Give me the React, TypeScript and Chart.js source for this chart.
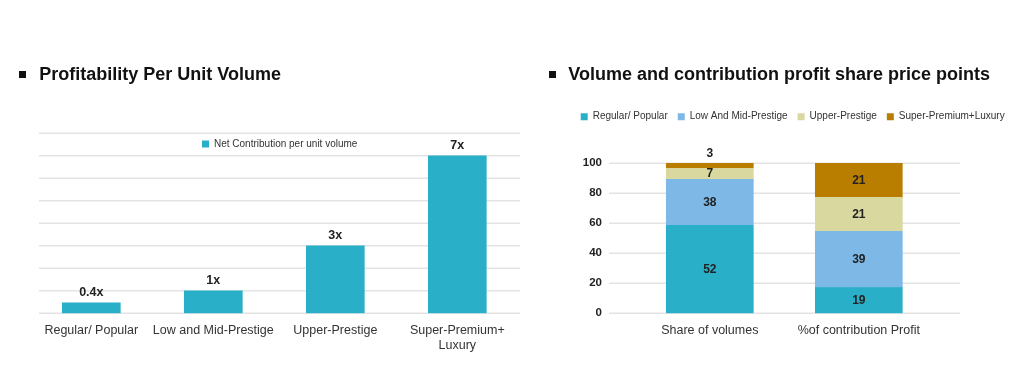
import React, { useEffect, useRef } from "react";
import { Chart, registerables } from "chart.js";

Chart.register(...registerables);

// ---------- data ----------
const LEFT_TITLE = "Profitability Per Unit Volume";
const LEFT_CATEGORIES = [["Regular/ Popular"], ["Low and Mid-Prestige"], ["Upper-Prestige"], ["Super-Premium+", "Luxury"]];
const LEFT_SERIES = "Net Contribution per unit volume";
const LEFT_VALUES = [0.47, 1, 3, 7];
const LEFT_VALUE_LABELS = ["0.4x", "1x", "3x", "7x"];
const LEFT_GRID = [0, 1, 2, 3, 4, 5, 6, 7, 8];

const RIGHT_TITLE = "Volume and contribution profit share price points";
const RIGHT_CATEGORIES = ["Share of volumes", "%of contribution Profit"];
const RIGHT_SERIES = ["Regular/ Popular", "Low And Mid-Prestige", "Upper-Prestige", "Super-Premium+Luxury"];
const RIGHT_REGULAR = [58.7, 17.1];
const RIGHT_LOWMID = [30.6, 37.6];
const RIGHT_UPPER = [7.4, 22.6];
const RIGHT_SUPER = [3.3, 22.7];
const RIGHT_REGULAR_LABELS = ["52", "19"];
const RIGHT_LOWMID_LABELS = ["38", "39"];
const RIGHT_UPPER_LABELS = ["7", "21"];
const RIGHT_SUPER_LABELS = ["3", "21"];
const RIGHT_Y_TICKS = [0, 20, 40, 60, 80, 100];

// ---------- style ----------
const FONT = '"Liberation Sans", Arial, Helvetica, sans-serif';
const TEAL = "#29AFC8";
const BLUE = "#7DB8E6";
const TAN = "#D8D89F";
const BROWN = "#B97E00";
const GRID_COLOR = "#e3e3e3";

Chart.defaults.font.family = FONT;

function gridPlugin(id: string, getValues: (chart: any) => number[], extL: number, extR: number) {
  return {
    id,
    beforeDatasetsDraw(chart: any) {
      const { ctx, chartArea, scales } = chart;
      const y = scales.y;
      ctx.save();
      ctx.strokeStyle = GRID_COLOR;
      ctx.lineWidth = 1.5;
      getValues(chart).forEach((v) => {
        const py = y.getPixelForValue(v);
        ctx.beginPath();
        ctx.moveTo(chartArea.left - extL, py);
        ctx.lineTo(chartArea.right + extR, py);
        ctx.stroke();
      });
      ctx.restore();
    },
  };
}

const leftLabelPlugin = {
  id: "leftLabels",
  afterDatasetsDraw(chart: any) {
    const { ctx } = chart;
    const meta = chart.getDatasetMeta(0);
    ctx.save();
    ctx.font = `bold 12.5px ${FONT}`;
    ctx.fillStyle = "#222";
    ctx.textAlign = "center";
    ctx.textBaseline = "middle";
    meta.data.forEach((bar: any, i: number) => {
      ctx.fillText(LEFT_VALUE_LABELS[i], bar.x, bar.y - 10.5);
    });
    ctx.restore();
  },
};

const RIGHT_LABELS = [RIGHT_REGULAR_LABELS, RIGHT_LOWMID_LABELS, RIGHT_UPPER_LABELS, RIGHT_SUPER_LABELS];

const rightLabelPlugin = {
  id: "rightLabels",
  afterDatasetsDraw(chart: any) {
    const { ctx } = chart;
    ctx.save();
    ctx.font = `bold 12px ${FONT}`;
    ctx.fillStyle = "#222";
    ctx.textAlign = "center";
    ctx.textBaseline = "middle";
    RIGHT_LABELS.forEach((labels, d) => {
      const meta = chart.getDatasetMeta(d);
      meta.data.forEach((bar: any, i: number) => {
        const h = bar.base - bar.y;
        const y = h < 8 ? bar.y - 9.5 : (bar.y + bar.base) / 2;
        ctx.fillText(labels[i], bar.x, y);
      });
    });
    ctx.restore();
  },
};

function Bullet({ left }: { left: number }) {
  return (
    <div style={{ position: "absolute", left, top: 70.5, width: 7, height: 7, background: "#111" }} />
  );
}

export default function App() {
  const leftRef = useRef<HTMLCanvasElement | null>(null);
  const rightRef = useRef<HTMLCanvasElement | null>(null);

  useEffect(() => {
    const prevMargin = document.body.style.margin;
    document.body.style.margin = "0";

    const left = new Chart(leftRef.current as HTMLCanvasElement, {
      type: "bar",
      data: {
        labels: LEFT_CATEGORIES as any,
        datasets: [
          {
            label: LEFT_SERIES,
            data: LEFT_VALUES,
            backgroundColor: TEAL,
            borderWidth: 0,
            barThickness: 58,
          },
        ],
      },
      options: {
        responsive: false,
        animation: false,
        devicePixelRatio: 1,
        layout: { padding: { left: 30.3, right: 0.9, top: 129, bottom: 0 }, autoPadding: false } as any,
        plugins: {
          legend: {
            position: "top",
            align: "center",
            maxHeight: 22,
            labels: { boxWidth: 7, boxHeight: 7, padding: 10, color: "#333", font: { size: 10, family: FONT } },
          },
          tooltip: { enabled: false },
        },
        scales: {
          x: {
            grid: { display: false, drawTicks: false },
            border: { display: false },
            ticks: {
              color: "#333",
              font: { size: 12.5, family: FONT, lineHeight: 1.25 },
              padding: 9,
              maxRotation: 0,
              autoSkip: false,
            },
            afterFit: (s: any) => {
              s.height = 71.7;
            },
          },
          y: { display: false, min: 0, max: 7.21 },
          y2: {
            position: "right",
            grid: { display: false, drawTicks: false },
            border: { display: false },
            ticks: { display: false },
            afterFit: (s: any) => {
              s.width = 10.8;
            },
          },
        } as any,
      },
      plugins: [gridPlugin("leftGrid", () => LEFT_GRID, -8.7, 1.7), leftLabelPlugin],
    });

    const right = new Chart(rightRef.current as HTMLCanvasElement, {
      type: "bar",
      data: {
        labels: RIGHT_CATEGORIES,
        datasets: [
          { label: RIGHT_SERIES[0], data: RIGHT_REGULAR, backgroundColor: TEAL, borderWidth: 0, barThickness: 87 },
          { label: RIGHT_SERIES[1], data: RIGHT_LOWMID, backgroundColor: BLUE, borderWidth: 0, barThickness: 87 },
          { label: RIGHT_SERIES[2], data: RIGHT_UPPER, backgroundColor: TAN, borderWidth: 0, barThickness: 87 },
          { label: RIGHT_SERIES[3], data: RIGHT_SUPER, backgroundColor: BROWN, borderWidth: 0, barThickness: 87 },
        ],
      },
      options: {
        responsive: false,
        animation: false,
        devicePixelRatio: 1,
        layout: { padding: { left: 40.7, right: 0, top: 101.7, bottom: 0 }, autoPadding: false } as any,
        plugins: {
          legend: {
            position: "top",
            align: "start",
            maxHeight: 28,
            labels: { boxWidth: 7, boxHeight: 7, padding: 10, color: "#333", font: { size: 10, family: FONT } },
          },
          tooltip: { enabled: false },
        },
        scales: {
          x: {
            stacked: true,
            grid: { display: false, drawTicks: false },
            border: { display: false },
            ticks: {
              color: "#333",
              font: { size: 12.5, family: FONT, lineHeight: 1.25 },
              padding: 9,
              maxRotation: 0,
              autoSkip: false,
            },
            afterFit: (s: any) => {
              s.height = 71.7;
            },
          },
          y: {
            stacked: true,
            min: 0,
            max: 122.4,
            grid: { display: false, drawTicks: false },
            border: { display: false },
            ticks: { color: "#222", padding: 33.3, font: { size: 11.5, weight: "bold", family: FONT } },
            afterBuildTicks: (s: any) => {
              s.ticks = RIGHT_Y_TICKS.map((v) => ({ value: v }));
            },
            afterFit: (s: any) => {
              s.width = 64.6;
            },
          },
          y2: {
            position: "right",
            grid: { display: false, drawTicks: false },
            border: { display: false },
            ticks: { display: false },
            afterFit: (s: any) => {
              s.width = 90.7;
            },
          },
        } as any,
      },
      plugins: [
        gridPlugin("rightGrid", (chart: any) => chart.scales.y.ticks.map((t: any) => t.value), 26.3, 26.7),
        rightLabelPlugin,
      ],
    });

    return () => {
      left.destroy();
      right.destroy();
      document.body.style.margin = prevMargin;
    };
  }, []);

  const titleStyle: React.CSSProperties = {
    position: "absolute",
    top: 63,
    height: 22,
    lineHeight: "22px",
    fontSize: 18,
    fontWeight: "bold",
    color: "#111",
    whiteSpace: "nowrap",
    fontFamily: FONT,
  };

  return (
    <div
      style={{
        position: "fixed",
        left: 0,
        top: 0,
        width: 1024,
        height: 385,
        background: "#fff",
        overflow: "hidden",
        fontFamily: FONT,
      }}
    >
      <canvas
        ref={leftRef}
        width={530}
        height={385}
        style={{ position: "absolute", left: 0, top: 0, width: 530, height: 385 }}
      />
      <canvas
        ref={rightRef}
        width={494}
        height={385}
        style={{ position: "absolute", left: 530, top: 0, width: 494, height: 385 }}
      />
      <Bullet left={19} />
      <div style={{ ...titleStyle, left: 39.3 }}>{LEFT_TITLE}</div>
      <Bullet left={549.3} />
      <div style={{ ...titleStyle, left: 568.3 }}>{RIGHT_TITLE}</div>
    </div>
  );
}
